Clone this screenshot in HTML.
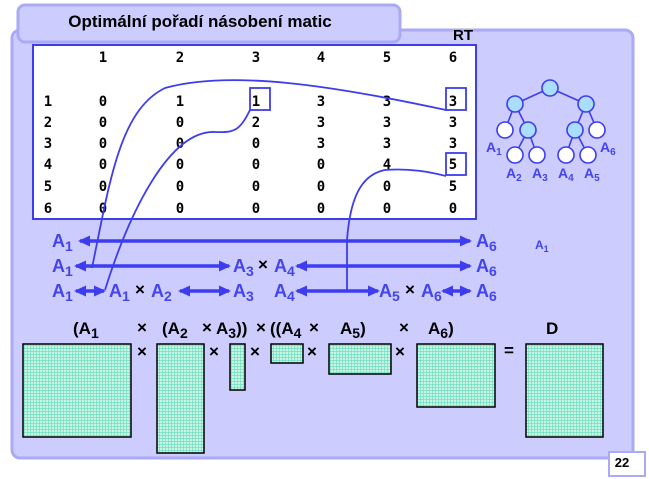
<!DOCTYPE html>
<html><head><meta charset="utf-8">
<style>
html,body{margin:0;padding:0;background:#fff;}
svg{display:block;font-family:"Liberation Sans",Arial,sans-serif;}
.m{font-family:"DejaVu Sans Mono","Liberation Mono",monospace;font-weight:bold;font-size:14px;fill:#000;}
.a{font-weight:bold;font-size:18px;fill:#4444ee;}
.s{font-size:14px;}
.b{font-weight:bold;font-size:17px;fill:#000;}
</style></head>
<body>
<svg width="649" height="479" viewBox="0 0 649 479">
<defs>
<pattern id="grid" width="3" height="3" patternUnits="userSpaceOnUse">
<rect width="3" height="3" fill="#c8f5e6"/>
<path d="M0 0.5H3M0.5 0V3" stroke="#6fe0c0" stroke-width="0.7"/>
</pattern>
<marker id="ah" markerWidth="12" markerHeight="12" refX="10" refY="6" orient="auto-start-reverse" markerUnits="userSpaceOnUse"><path d="M0 0.5L12 6L0 11.5z" fill="#3d3def"/></marker>
</defs>
<g>
<rect x="12" y="30" width="621" height="428" rx="8" fill="#ccccff" stroke="#aaaaf5" stroke-width="3"/>
</g>
<g>
<rect x="18" y="5" width="382" height="37" rx="7" fill="#ccccff" stroke="#aaaaf5" stroke-width="3"/>
<text x="200" y="27" text-anchor="middle" font-size="17" font-weight="bold" fill="#000">Optimální pořadí násobení matic</text>
</g>
<text x="463" y="40" text-anchor="middle" font-size="15" font-weight="bold">RT</text>
<g>
<rect x="33" y="45" width="443" height="174" fill="#fff" stroke="#3d3def" stroke-width="2"/>
<g class="m" text-anchor="middle">
<text x="103" y="62">1</text><text x="180" y="62">2</text><text x="256" y="62">3</text><text x="321" y="62">4</text><text x="387" y="62">5</text><text x="453" y="62">6</text>
<text x="48" y="106">1</text><text x="103" y="106">0</text><text x="180" y="106">1</text><text x="256" y="106">1</text><text x="321" y="106">3</text><text x="387" y="106">3</text><text x="453" y="106">3</text>
<text x="48" y="127">2</text><text x="103" y="127">0</text><text x="180" y="127">0</text><text x="256" y="127">2</text><text x="321" y="127">3</text><text x="387" y="127">3</text><text x="453" y="127">3</text>
<text x="48" y="148">3</text><text x="103" y="148">0</text><text x="180" y="148">0</text><text x="256" y="148">0</text><text x="321" y="148">3</text><text x="387" y="148">3</text><text x="453" y="148">3</text>
<text x="48" y="169">4</text><text x="103" y="169">0</text><text x="180" y="169">0</text><text x="256" y="169">0</text><text x="321" y="169">0</text><text x="387" y="169">4</text><text x="453" y="169">5</text>
<text x="48" y="191">5</text><text x="103" y="191">0</text><text x="180" y="191">0</text><text x="256" y="191">0</text><text x="321" y="191">0</text><text x="387" y="191">0</text><text x="453" y="191">5</text>
<text x="48" y="213">6</text><text x="103" y="213">0</text><text x="180" y="213">0</text><text x="256" y="213">0</text><text x="321" y="213">0</text><text x="387" y="213">0</text><text x="453" y="213">0</text>
</g>
<g fill="none" stroke="#3d3def" stroke-width="1.8">
<rect x="250" y="88" width="20" height="22"/>
<rect x="446" y="88" width="20" height="22"/>
<rect x="446" y="153" width="20" height="22"/>
</g>
</g>
<g fill="none" stroke="#3d3def" stroke-width="1.8">
<path d="M92 268 C110 180 120 110 165 88 C230 70 330 85 446 110"/>
<path d="M105 290 C130 210 170 130 215 132 C235 133 240 130 250 110"/>
<path d="M347 292 L347 240 C350 200 360 175 385 170 C410 168 430 172 446 176"/>
</g>
<g stroke="#3d3def" stroke-width="1.6">
<path d="M550 88L515 104M550 88L586 104M515 104L505 130M515 104L528 130M586 104L575 130M586 104L597 130M528 130L515 155M528 130L537 155M575 130L566 155M575 130L588 155" fill="none"/>
<circle cx="550" cy="88" r="8" fill="#aaddff"/>
<circle cx="515" cy="104" r="8" fill="#aaddff"/>
<circle cx="586" cy="104" r="8" fill="#aaddff"/>
<circle cx="505" cy="130" r="8" fill="#fff"/>
<circle cx="528" cy="130" r="8" fill="#aaddff"/>
<circle cx="575" cy="130" r="8" fill="#aaddff"/>
<circle cx="597" cy="130" r="8" fill="#fff"/>
<circle cx="515" cy="155" r="8" fill="#fff"/>
<circle cx="537" cy="155" r="8" fill="#fff"/>
<circle cx="566" cy="155" r="8" fill="#fff"/>
<circle cx="588" cy="155" r="8" fill="#fff"/>
<g stroke="none" font-weight="bold" font-size="14" fill="#4444ee">
<text x="486" y="152">A<tspan font-size="10" dy="3">1</tspan></text>
<text x="600" y="152">A<tspan font-size="10" dy="3">6</tspan></text>
<text x="506" y="178">A<tspan font-size="10" dy="3">2</tspan></text>
<text x="532" y="178">A<tspan font-size="10" dy="3">3</tspan></text>
<text x="558" y="178">A<tspan font-size="10" dy="3">4</tspan></text>
<text x="584" y="178">A<tspan font-size="10" dy="3">5</tspan></text>
</g>
</g>
<text x="535" y="249" font-weight="bold" font-size="12" fill="#4444ee">A<tspan font-size="9" dy="3">1</tspan></text>
<g stroke="#3d3def" stroke-width="3.5" fill="none">
<line x1="80" y1="241" x2="470" y2="241" marker-start="url(#ah)" marker-end="url(#ah)"/>
<line x1="76" y1="266" x2="229" y2="266" marker-start="url(#ah)" marker-end="url(#ah)"/>
<line x1="297" y1="266" x2="470" y2="266" marker-start="url(#ah)" marker-end="url(#ah)"/>
<line x1="76" y1="291" x2="104" y2="291" marker-start="url(#ah)" marker-end="url(#ah)"/>
<line x1="180" y1="291" x2="229" y2="291" marker-start="url(#ah)" marker-end="url(#ah)"/>
<line x1="297" y1="291" x2="378" y2="291" marker-start="url(#ah)" marker-end="url(#ah)"/>
<line x1="443" y1="291" x2="470" y2="291" marker-start="url(#ah)" marker-end="url(#ah)"/>
</g>
<g>
<text class="a" x="52" y="247">A<tspan class="s" dy="4">1</tspan></text>
<text class="a" x="476" y="247">A<tspan class="s" dy="4">6</tspan></text>
<text class="a" x="52" y="272">A<tspan class="s" dy="4">1</tspan></text>
<text class="a" x="233" y="272">A<tspan class="s" dy="4">3</tspan></text>
<text class="b" x="258" y="270" font-size="15">×</text>
<text class="a" x="274" y="272">A<tspan class="s" dy="4">4</tspan></text>
<text class="a" x="476" y="272">A<tspan class="s" dy="4">6</tspan></text>
<text class="a" x="52" y="297">A<tspan class="s" dy="4">1</tspan></text>
<text class="a" x="109" y="297">A<tspan class="s" dy="4">1</tspan></text>
<text class="b" x="135" y="295" font-size="15">×</text>
<text class="a" x="151" y="297">A<tspan class="s" dy="4">2</tspan></text>
<text class="a" x="233" y="297">A<tspan class="s" dy="4">3</tspan></text>
<text class="a" x="274" y="297">A<tspan class="s" dy="4">4</tspan></text>
<text class="a" x="379" y="297">A<tspan class="s" dy="4">5</tspan></text>
<text class="b" x="405" y="295" font-size="15">×</text>
<text class="a" x="421" y="297">A<tspan class="s" dy="4">6</tspan></text>
<text class="a" x="476" y="297">A<tspan class="s" dy="4">6</tspan></text>
</g>
<g class="b">
<text class="b" x="73" y="334">(A<tspan font-size="14" dy="4">1</tspan></text>
<text class="b" x="137" y="333" font-size="13">×</text>
<text class="b" x="162" y="334">(A<tspan font-size="14" dy="4">2</tspan></text>
<text class="b" x="202" y="333" font-size="13">×</text>
<text class="b" x="216" y="334">A<tspan font-size="14" dy="4">3</tspan><tspan dy="-4">))</tspan></text>
<text class="b" x="256" y="333" font-size="13">×</text>
<text class="b" x="270" y="334">((A<tspan font-size="14" dy="4">4</tspan></text>
<text class="b" x="309" y="333" font-size="13">×</text>
<text class="b" x="340" y="334">A<tspan font-size="14" dy="4">5</tspan><tspan dy="-4">)</tspan></text>
<text class="b" x="399" y="333" font-size="13">×</text>
<text class="b" x="428" y="334">A<tspan font-size="14" dy="4">6</tspan><tspan dy="-4">)</tspan></text>
<text class="b" x="546" y="334">D</text>
</g>
<g fill="url(#grid)" stroke="#000" stroke-width="1.5">
<rect x="23" y="344" width="108" height="93"/>
<rect x="157" y="344" width="47" height="109"/>
<rect x="230" y="344" width="15" height="46"/>
<rect x="271" y="344" width="32" height="19"/>
<rect x="329" y="344" width="62" height="30"/>
<rect x="417" y="344" width="78" height="63"/>
<rect x="526" y="344" width="77" height="93"/>
</g>
<g class="b">
<text class="b" x="137" y="357" font-size="15">×</text>
<text class="b" x="209" y="357" font-size="15">×</text>
<text class="b" x="250" y="357" font-size="15">×</text>
<text class="b" x="307" y="357" font-size="15">×</text>
<text class="b" x="395" y="357" font-size="15">×</text>
<text class="b" x="504" y="356" font-size="20">=</text>
</g>
<g>
<rect x="609" y="452" width="36" height="24" fill="#fff" stroke="#aaaaf5" stroke-width="2"/>
<text x="622" y="467" font-size="13" font-weight="bold" text-anchor="middle">22</text>
</g>
</svg>
</body></html>
